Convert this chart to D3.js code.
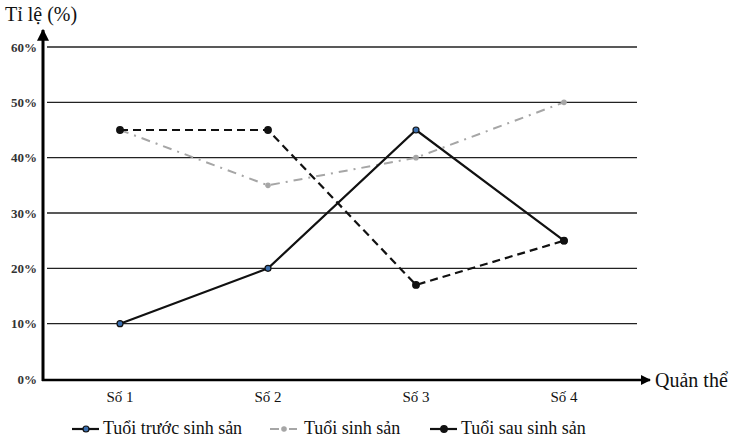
<!DOCTYPE html>
<html><head><meta charset="utf-8">
<script src="https://cdn.jsdelivr.net/npm/d3@7"></script>
<style>body{margin:0;background:#fff}svg{display:block}text{font-family:"Liberation Serif","Times New Roman",serif}</style>
</head><body><svg id="c" width="731" height="440"></svg>
<script>
const categories = ["Số 1", "Số 2", "Số 3", "Số 4"];
const truocSinhSan = [10, 20, 45, 25];
const sinhSan = [45, 35, 40, 50];
const sauSinhSan = [45, 45, 17, 25];
const yTicks = [0, 10, 20, 30, 40, 50, 60];
const seriesNames = ["Tuổi trước sinh sản", "Tuổi sinh sản", "Tuổi sau sinh sản"];

const svg = d3.select("#c");
const x = d3.scaleBand().domain(categories).range([46, 638]);
const y = d3.scaleLinear().domain([0, 60]).range([379, 47]);
const cx = c => x(c) + x.bandwidth() / 2;

svg.append("g").selectAll("line").data(yTicks.filter(d => d > 0)).join("line")
  .attr("x1", 47).attr("x2", 637).attr("y1", d => y(d)).attr("y2", d => y(d))
  .attr("stroke", "#222").attr("stroke-width", 1.3);

svg.append("g").selectAll("text").data(yTicks).join("text")
  .attr("x", 37).attr("y", d => y(d) + 4.5).attr("text-anchor", "end")
  .attr("font-size", 13).attr("font-weight", "bold").attr("fill", "#333")
  .text(d => d + "%");

svg.append("g").selectAll("text").data(categories).join("text")
  .attr("x", d => cx(d)).attr("y", 402).attr("text-anchor", "middle")
  .attr("font-size", 15).attr("fill", "#111").text(d => d);

const defs = svg.append("defs");
defs.append("marker").attr("id", "arr").attr("viewBox", "0 0 10 10").attr("refX", 9).attr("refY", 5)
  .attr("markerWidth", 4).attr("markerHeight", 4).attr("orient", "auto")
  .append("path").attr("d", "M0,0L10,5L0,10Z").attr("fill", "#000");
svg.append("line").attr("x1", 43).attr("x2", 43).attr("y1", 381).attr("y2", 30)
  .attr("stroke", "#000").attr("stroke-width", 3).attr("marker-end", "url(#arr)");
svg.append("line").attr("x1", 42).attr("x2", 650).attr("y1", 380).attr("y2", 380)
  .attr("stroke", "#000").attr("stroke-width", 2.5).attr("marker-end", "url(#arr)");

svg.append("text").attr("x", 5).attr("y", 21).attr("font-size", 20).attr("fill", "#111").text("Tỉ lệ (%)");
svg.append("text").attr("x", 655).attr("y", 387).attr("font-size", 20).attr("fill", "#111").text("Quản thể");

const line = d3.line().x((d, i) => cx(categories[i])).y(d => y(d));

const styles = [
  {data: truocSinhSan, stroke: "#111", width: 2.2, dash: null, mFill: "#3a6fb0", mStroke: "#111", r: 3},
  {data: sinhSan, stroke: "#a6a6a6", width: 2, dash: "9,6,2,6", mFill: "#a6a6a6", mStroke: "#a6a6a6", r: 2.2},
  {data: sauSinhSan, stroke: "#111", width: 2.2, dash: "8,5", mFill: "#111", mStroke: "#111", r: 3.3}
];
[1, 0, 2].forEach(k => {
  const s = styles[k];
  const g = svg.append("g");
  g.append("path").attr("d", line(s.data)).attr("fill", "none").attr("stroke", s.stroke)
    .attr("stroke-width", s.width).attr("stroke-dasharray", s.dash);
  g.selectAll("circle").data(s.data).join("circle")
    .attr("cx", (d, i) => cx(categories[i])).attr("cy", d => y(d)).attr("r", s.r)
    .attr("fill", s.mFill).attr("stroke", s.mStroke).attr("stroke-width", 1.2);
});

const legX = [72, 270, 430];
const leg = svg.append("g");
styles.forEach((s, k) => {
  const lx = legX[k], ly = 429;
  leg.append("line").attr("x1", lx).attr("x2", lx + 27).attr("y1", ly).attr("y2", ly)
    .attr("stroke", s.stroke).attr("stroke-width", s.width).attr("stroke-dasharray", k === 1 ? "9,4,2,4" : null);
  leg.append("circle").attr("cx", lx + 14).attr("cy", ly).attr("r", s.r)
    .attr("fill", s.mFill).attr("stroke", s.mStroke).attr("stroke-width", 1.2);
  leg.append("text").attr("x", lx + (k === 1 ? 34 : 31)).attr("y", ly + 5).attr("font-size", 18).attr("fill", "#111")
    .text(seriesNames[k]);
});
</script></body></html>
